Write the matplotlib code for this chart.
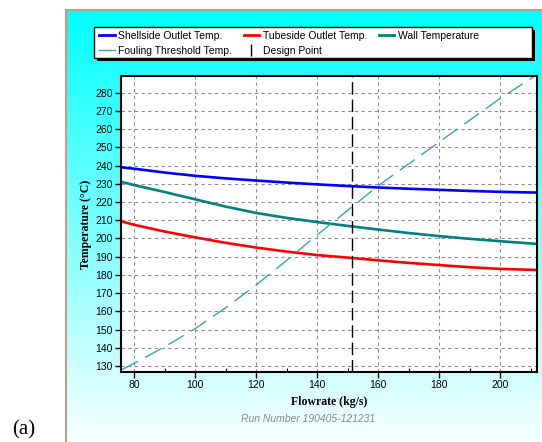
import numpy as np
import matplotlib
matplotlib.use('Agg')
import matplotlib.pyplot as plt
from matplotlib.lines import Line2D
from matplotlib.patches import Rectangle
from matplotlib.ticker import MultipleLocator

plt.rcParams['font.family'] = ['Liberation Sans', 'DejaVu Sans']

# ---------- datos ----------
flow = [76, 80, 90, 100, 110, 120, 130, 140, 150, 160, 170, 180, 190, 200, 212]
shellside = [239.0, 238.3, 236.2, 234.4, 233.0, 231.8, 230.7, 229.7, 228.8, 228.0,
             227.3, 226.7, 226.1, 225.6, 225.2]
tubeside = [209.3, 207.5, 203.8, 200.6, 197.6, 195.0, 192.8, 190.9, 189.5, 188.0,
            186.6, 185.4, 184.2, 183.3, 182.7]
wall = [231.0, 229.3, 225.5, 221.5, 217.5, 214.0, 211.3, 209.0, 206.9, 204.9,
        203.0, 201.3, 199.8, 198.5, 197.0]
fouling = [128.0, 131.5, 140.5, 150.5, 162.0, 174.5, 188.0, 202.0, 215.5, 229.0,
           241.0, 253.0, 265.0, 277.0, 290.0]
design_point = 151.4
run_number = 'Run Number 190405-121231'

W, H = 542, 442
fig = plt.figure(figsize=(W / 100, H / 100), dpi=100)

# ---------- fondo con degradado cian ----------
bg = fig.add_axes([0, 0, 1, 1], zorder=-10)
bg.set_xlim(0, W)
bg.set_ylim(H, 0)
bg.axis('off')
top = np.array([0.0, 1.0, 1.0])
bottom = np.array([0.97, 1.0, 1.0])
t = np.linspace(0, 1, 256)[:, None, None]
grad = top * (1 - t) + bottom * t
grad = np.repeat(grad, 2, axis=1)
bg.imshow(grad, extent=(66, W, H, 10), aspect='auto')
bg.plot([65.5, 65.5], [H, 9.5], color='#aaa694', lw=1.5)
bg.plot([65.5, W], [9.5, 9.5], color='#aaa694', lw=1.5)
bg.text(24, 430, '(a)', family='Liberation Serif', fontsize=15,
        ha='center', va='center')

# caja de la leyenda con sombra
bg.add_patch(Rectangle((97, 30), 438, 31, facecolor='black', edgecolor='none'))
bg.add_patch(Rectangle((94, 27), 438, 31, facecolor='white', edgecolor='black', lw=1))

# ---------- gráfico principal ----------
ax = fig.add_axes([121 / W, 1 - 372 / H, 416 / W, 296 / H])
ax.set_facecolor('white')

ax.plot(flow, shellside, color='#0000ff', lw=1.9)
ax.plot(flow, tubeside, color='#ff0000', lw=1.9)
ax.plot(flow, wall, color='#008080', lw=1.9)
ax.plot(flow, fouling, color='#3aa6a6', lw=1.0, linestyle=(0, (13, 6)))
ax.axvline(design_point, color='black', lw=1.0, linestyle=(0, (9, 3.5)))

ax.set_xlim(75.7, 212)
ax.set_ylim(126.7, 289.2)
ax.xaxis.set_major_locator(MultipleLocator(20))
ax.xaxis.set_minor_locator(MultipleLocator(10))
ax.set_yticks(np.arange(130, 281, 10))
ax.grid(True, which='major', color='#8c8c8c', linestyle=(0, (3, 3)), lw=0.8)
ax.tick_params(axis='both', which='major', direction='out', length=4, width=1,
               labelsize=7.5, pad=2)
ax.tick_params(axis='x', which='minor', direction='in', length=3, width=0.8)
for s in ax.spines.values():
    s.set_linewidth(1.5)
    s.set_color('black')

ax.set_xlabel('Flowrate (kg/s)', family='Liberation Serif', fontweight='bold',
              fontsize=8.5, labelpad=4)
ax.set_ylabel('Temperature (°C)', family='Liberation Serif', fontweight='bold',
              fontsize=8.5, labelpad=2)

fig.text(308 / W, 1 - 419 / H, run_number, color='#8a8a8a', style='italic',
         fontsize=7.5, ha='center', va='center')

# ---------- leyenda ----------
handles = [
    Line2D([], [], color='#0000ff', lw=2),
    Line2D([], [], color='#3aa6a6', lw=1),
    Line2D([], [], color='#ff0000', lw=2),
    Line2D([], [], color='black', marker='|', linestyle='None', markersize=8,
           markeredgewidth=1),
    Line2D([], [], color='#008080', lw=2),
]
labels = ['Shellside Outlet Temp.', 'Fouling Threshold Temp.',
          'Tubeside Outlet Temp.', 'Design Point', 'Wall Temperature']
leg = fig.legend(handles, labels, ncol=3, loc='upper left',
                 bbox_to_anchor=(99 / W, 1 - 31 / H),
                 borderaxespad=0, borderpad=0, fontsize=7.5, handlelength=1.5,
                 handletextpad=0.35, labelspacing=0.45, columnspacing=1.1,
                 frameon=False, numpoints=1)

fig.savefig('out.png', dpi=100)
